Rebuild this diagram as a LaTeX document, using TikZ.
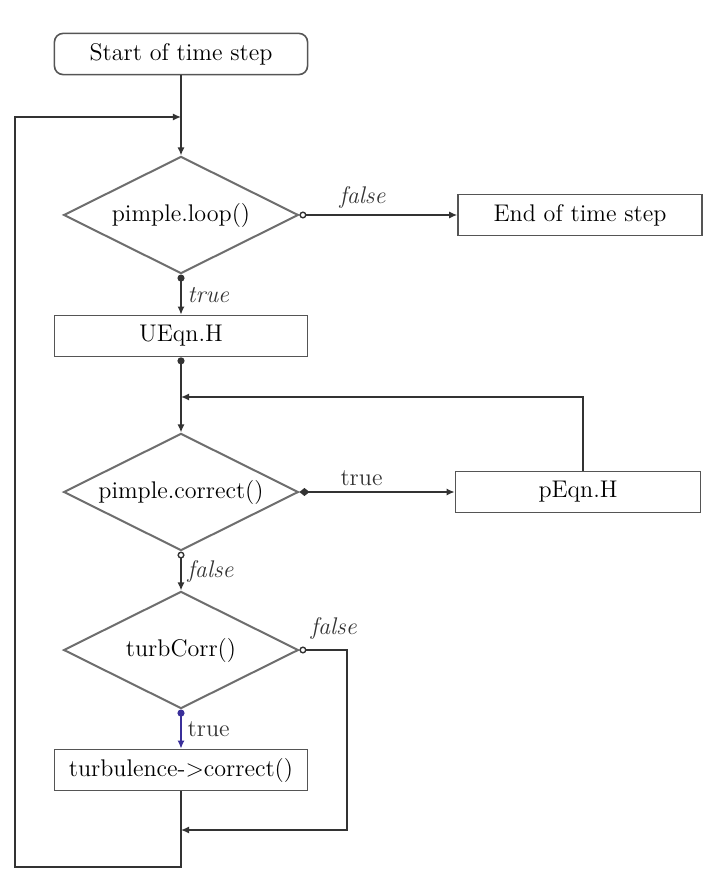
\documentclass[tikz,border=0pt,12pt]{standalone}
\usepackage{xcolor}
\definecolor{flowLine}{HTML}{333333}
\definecolor{flowBorder}{HTML}{555555}
\definecolor{flowDiamond}{HTML}{6E6E6E}
\definecolor{flowSelect}{HTML}{3A2F9A}
\usetikzlibrary{shapes.geometric,arrows.meta,positioning,calc}
\tikzset{
    startbox/.style={
        draw=flowBorder,
        rectangle,
        rounded corners=1.5mm,
        align=center,
        minimum height=0.72cm,
        minimum width=4.43cm,
        line width=0.8pt
    },
    actionbox/.style={
        draw=flowBorder,
        rectangle,
        align=center,
        minimum height=0.72cm,
        minimum width=4.43cm,
        line width=0.8pt
    },
    decision/.style={
        draw=flowDiamond,
        diamond,
        aspect=2,
        inner sep=0pt,
        minimum width=4.11cm,
        minimum height=2.05cm,
        line width=1pt
    },
    arrow/.style={
        -{Latex[length=4pt,width=3.5pt]},
        line width=0.7pt,
        color=flowLine
    },
    truearrow/.style={
        arrow,
        {Circle[length=3.5pt]}-{Latex[length=4pt,width=3.5pt]}
    },
    falsearrow/.style={
        arrow,
        {Circle[open,length=3.5pt]}-{Latex[length=4pt,width=3.5pt]}
    },
    portlabel/.style={
        font=\itshape,
        color=flowLine,
        inner sep=1pt
    }
}

\begin{document}
\begin{tikzpicture}[x=0.0175cm, y=-0.0175cm]
    \useasboundingbox (0,0) rectangle (704,873);

    % Nodes
    \node[startbox] (start) at (181,54) {Start of time step};
    \node[decision] (loop) at (181,215) {pimple.loop()};
    \node[actionbox, minimum width=4.27cm] (endstep) at (580,215) {End of time step};
    \node[actionbox] (ueqn) at (181,336) {UEqn.H};
    \node[decision] (correct) at (181,492) {pimple.correct()};
    \node[actionbox, minimum width=4.29cm] (peqn) at (578,492) {pEqn.H};
    \node[decision] (turbcorr) at (181,650) {turbCorr()};
    \node[actionbox] (turbulence) at (181,770) {turbulence-\textgreater correct()};

    % Junction points
    \coordinate (loopjoin) at (181,117);
    \coordinate (corrjoin) at (181,397);
    \coordinate (turbjoin) at (181,830);
    \coordinate (turbturn) at (347,830);
    \coordinate (backleft) at (15,867);
    \coordinate (peqnup) at (583,492);

    % Connections
    \draw[arrow] (start) -- (loop);
    \draw[falsearrow] (loop.east) -- (endstep.west)
        node[portlabel, pos=0.4, above=2pt] (lbfalse) {false};
    \draw[truearrow] (loop.south) -- (ueqn.north)
        node[portlabel, midway, right=2pt] (lbtrue) {true};
    \draw[truearrow] (ueqn.south) -- (correct.north);
    \draw[arrow, {Diamond[length=5pt,width=4pt]}-{Latex[length=4pt,width=3.5pt]}] (correct.east) -- (peqn.west)
        node[portlabel, font=\upshape, pos=0.4, above=2pt] (cotrue) {true};
    \draw[arrow] (peqnup |- peqn.north) |- (corrjoin);
    \draw[falsearrow] (correct.south) -- (turbcorr.north)
        node[portlabel, midway, right=2pt] (cofalse) {false};
    \draw[truearrow, color=flowSelect] (turbcorr.south) -- (turbulence.north)
        node[portlabel, font=\upshape, midway, right=2pt] (tctrue) {true};
    \draw[falsearrow] (turbcorr.east) -| (turbturn) -- (turbjoin);
    \node[portlabel, above left=4pt and -6pt] (tcfalse) at (turbturn |- turbcorr.east) {false};
    \draw[arrow] (turbulence.south) |- (backleft) |- (loopjoin);
\end{tikzpicture}
\end{document}
